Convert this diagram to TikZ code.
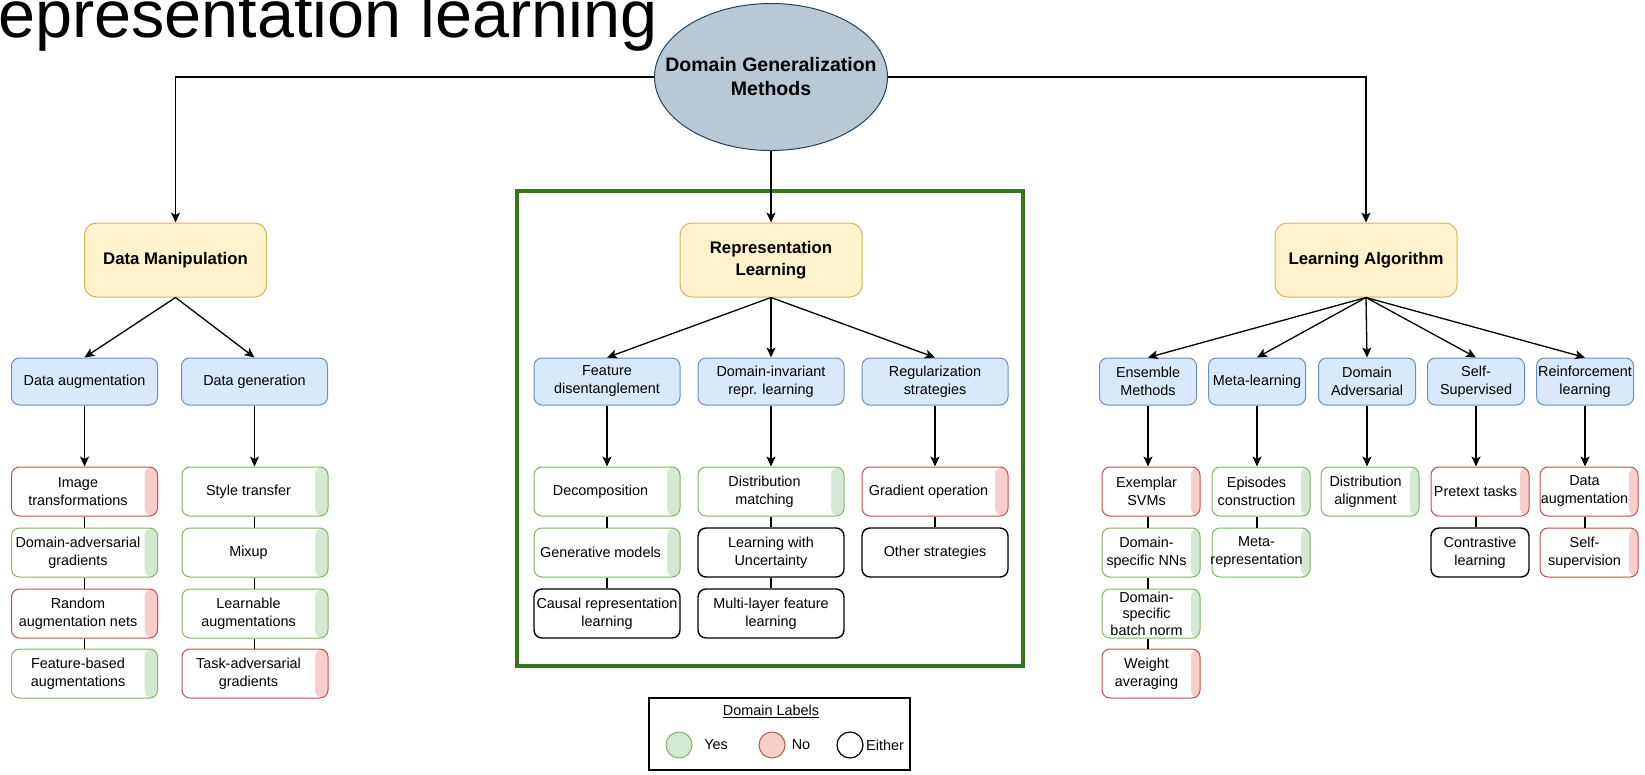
\documentclass[tikz,border=0pt]{standalone}
\usepackage{fontspec}
\setmainfont{Liberation Sans}
\usetikzlibrary{shapes.geometric,arrows.meta}
\definecolor{bfill}{HTML}{DAE8FC}
\definecolor{bdraw}{HTML}{6C8EBF}
\definecolor{yfill}{HTML}{FFF2CC}
\definecolor{ydraw}{HTML}{D6B656}
\definecolor{gfill}{HTML}{D5E8D4}
\definecolor{gdraw}{HTML}{82B366}
\definecolor{rfill}{HTML}{F8CECC}
\definecolor{rdraw}{HTML}{B85450}
\definecolor{efill}{HTML}{BAC8D3}
\definecolor{edraw}{HTML}{23445D}
\definecolor{frame}{HTML}{38761D}
\newcommand\lfont{\fontsize{14.4pt}{18pt}\selectfont}
\newcommand\lf[6]{\node[#1] (#2) at (#3,#4) {}; \node[ltxt] (#2t) at ([xshift=-#5]#2.center) {#6};}
\begin{document}
\begin{tikzpicture}[x=1pt,y=-1pt,
  arr/.style={line width=1.3pt,-{Stealth[length=10pt,width=9pt,inset=2.5pt]}},
  conn/.style={line width=1.3pt},
  rootell/.style={ellipse, fill=efill, draw=edraw, line width=1pt, minimum width=233pt, minimum height=147pt, inner sep=0pt},
  roottxt/.style={font=\bfseries\fontsize{19.5pt}{24pt}\selectfont, align=center},
  lvl/.style={rounded corners=12pt, fill=yfill, draw=ydraw, line width=1pt, minimum width=182pt, minimum height=74pt, align=center, font=\bfseries\fontsize{16.8pt}{22pt}\selectfont},
  cat/.style={rounded corners=8pt, fill=bfill, draw=bdraw, line width=1pt, minimum height=47pt, inner sep=0pt, align=center, font=\lfont},
  catw/.style={cat, minimum width=146pt},
  catn/.style={cat, minimum width=97pt},
  leaf/.style={rounded corners=8pt, fill=white, minimum height=49pt, inner sep=0pt, line width=1pt},
  strip/.style 2 args={path picture={\fill[#1] ([xshift=-#2]path picture bounding box.north east) rectangle (path picture bounding box.south east);}},
  yw/.style={leaf, minimum width=146pt, draw=gdraw, strip={gfill}{13pt}},
  nw/.style={leaf, minimum width=146pt, draw=rdraw, strip={rfill}{13pt}},
  ew/.style={leaf, minimum width=146pt, draw=black, line width=1.4pt},
  yn/.style={leaf, minimum width=98pt, draw=gdraw, strip={gfill}{9pt}},
  nn/.style={leaf, minimum width=98pt, draw=rdraw, strip={rfill}{9pt}},
  en/.style={leaf, minimum width=98pt, draw=black, line width=1.4pt},
  ltxt/.style={align=center, font=\lfont, inner sep=0pt}
]
\useasboundingbox (0,0) rectangle (1645,774);
\clip (0,0) rectangle (1645,774);

% title (cut off)
\node[anchor=base west, inner sep=0pt, font=\fontsize{66.6pt}{80pt}\selectfont] (ttl) at (-50,37) {Representation learning};

% green frame
\draw[frame, line width=3.5pt] (517,191) rectangle (1023,666);

% root
\node[rootell] (root) at (771,77) {};
\node[roottxt] (roott) at (root.center) {Domain Generalization\\Methods};

% level 1
\node[lvl] (DM) at (175.5,260) {Data Manipulation};
\node[lvl] (RL) at (771,260) {Representation\\Learning};
\node[lvl] (LA) at (1366,260) {Learning Algorithm};

\draw[arr] (root.west) -| (DM.north);
\draw[arr] (root.east) -| (LA.north);
\draw[arr] (root.south) -- (RL.north);

% level 2
\node[catw] (DA) at (84.5,381.5) {Data augmentation};
\node[catw] (DG) at (254.5,381.5) {Data generation};
\node[catw] (FD) at (607,381.5) {Feature\\disentanglement};
\node[catw] (DI) at (771,381.5) {Domain-invariant\\repr. learning};
\node[catw] (RS) at (935,381.5) {Regularization\\strategies};
\node[catn] (EM) at (1148,381.5) {Ensemble\\Methods};
\node[catn] (ML) at (1257,381.5) {Meta-learning};
\node[catn] (DV) at (1367,381.5) {Domain\\Adversarial};
\node[catn] (SS) at (1476,381.5) {Self-\\Supervised};
\node[catn] (RE) at (1585,381.5) {Reinforcement\\learning};

\foreach \c in {DA,DG} \draw[arr] (DM.south) -- (\c.north);
\foreach \c in {FD,DI,RS} \draw[arr] (RL.south) -- (\c.north);
\foreach \c in {EM,ML,DV,SS,RE} \draw[arr] (LA.south) -- (\c.north);

% leaves: data augmentation
\lf{nw}{a1}{84.5}{491.5}{6.5pt}{Image\\transformations}
\lf{yw}{a2}{84.5}{552.5}{6.5pt}{Domain-adversarial\\gradients}
\lf{nw}{a3}{84.5}{613.5}{6.5pt}{Random\\augmentation nets}
\lf{yw}{a4}{84.5}{673.5}{6.5pt}{Feature-based\\augmentations}
% data generation
\lf{yw}{g1}{255}{491.5}{6.5pt}{Style transfer}
\lf{yw}{g2}{255}{552.5}{6.5pt}{Mixup}
\lf{yw}{g3}{255}{613.5}{6.5pt}{Learnable\\augmentations}
\lf{nw}{g4}{255}{673.5}{6.5pt}{Task-adversarial\\gradients}
% feature disentanglement
\lf{yw}{f1}{607}{491.5}{6.5pt}{Decomposition}
\lf{yw}{f2}{607}{552.5}{6.5pt}{Generative models}
\lf{ew}{f3}{607}{613.5}{0pt}{Causal representation\\learning}
% domain-invariant
\lf{yw}{d1}{771}{491.5}{6.5pt}{Distribution\\matching}
\lf{ew}{d2}{771}{552.5}{0pt}{Learning with\\Uncertainty}
\lf{ew}{d3}{771}{613.5}{0pt}{Multi-layer feature\\learning}
% regularization
\lf{nw}{r1}{935}{491.5}{6.5pt}{Gradient operation}
\lf{ew}{r2}{935}{552.5}{0pt}{Other strategies}
% ensemble
\lf{nn}{e1}{1151}{491.5}{4.5pt}{Exemplar\\SVMs}
\lf{yn}{e2}{1151}{552.5}{4.5pt}{Domain-\\specific NNs}
\node[yn] (e3) at (1151,613.5) {};
\node[ltxt, font=\fontsize{14.4pt}{16.5pt}\selectfont] (e3t) at ([xshift=-4.5pt]e3.center) {Domain-\\specific\\batch norm};
\lf{nn}{e4}{1151}{673.5}{4.5pt}{Weight\\averaging}
% meta-learning
\lf{yn}{m1}{1261}{491.5}{4.5pt}{Episodes\\construction}
\lf{yn}{m2}{1261}{552.5}{4.5pt}{Meta-\\representation}
% domain adversarial
\lf{yn}{v1}{1370}{491.5}{4.5pt}{Distribution\\alignment}
% self-supervised
\lf{nn}{s1}{1480}{491.5}{4.5pt}{Pretext tasks}
\lf{en}{s2}{1480}{552.5}{0pt}{Contrastive\\learning}
% reinforcement
\lf{nn}{q1}{1589}{491.5}{4.5pt}{Data\\augmentation}
\lf{nn}{q2}{1589}{552.5}{4.5pt}{Self-\\supervision}

% arrows from categories to first leaves
\foreach \c/\l in {DA/a1,DG/g1,FD/f1,DI/d1,RS/r1,EM/e1,ML/m1,DV/v1,SS/s1,RE/q1}
  \draw[arr] (\c.south) -- (\c.south |- \l.north);

% connectors between leaves
\foreach \c/\a/\b in {DA/a1/a2,DA/a2/a3,DA/a3/a4,DG/g1/g2,DG/g2/g3,DG/g3/g4,FD/f1/f2,FD/f2/f3,DI/d1/d2,DI/d2/d3,RS/r1/r2,EM/e1/e2,EM/e2/e3,EM/e3/e4,ML/m1/m2,SS/s1/s2,RE/q1/q2}
  \draw[conn] (\c.south |- \a.south) -- (\c.south |- \b.north);

% legend
\node[draw, line width=1.2pt, minimum width=261pt, minimum height=72pt, inner sep=0pt] (leg) at (779.5,734) {};
\node[font=\lfont] (legt) at (771,711) {\underline{Domain Labels}};
\node[circle, minimum size=26pt, inner sep=0pt, fill=gfill, draw=gdraw, line width=1pt] (cy) at (679,745) {};
\node[font=\lfont] (ty) at (716,745) {Yes};
\node[circle, minimum size=26pt, inner sep=0pt, fill=rfill, draw=rdraw, line width=1pt] (cn) at (772,745) {};
\node[font=\lfont] (tn) at (801,745) {No};
\node[circle, minimum size=26pt, inner sep=0pt, fill=white, draw=black, line width=1.2pt] (ce) at (850,745) {};
\node[font=\lfont] (te) at (885,745) {Either};
\end{tikzpicture}
\end{document}
